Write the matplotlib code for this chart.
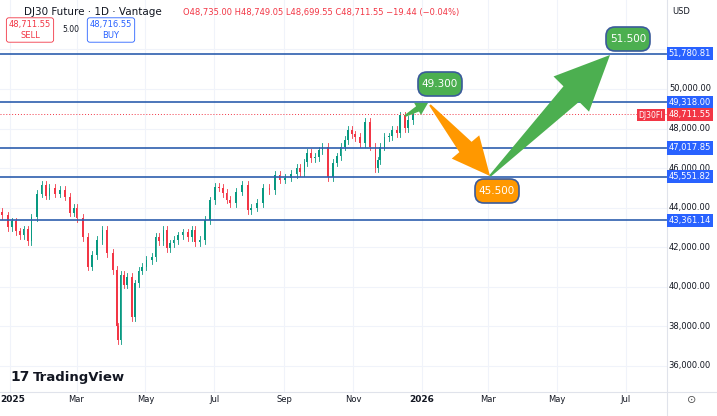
import matplotlib
matplotlib.use("Agg")
import matplotlib.pyplot as plt
import numpy as np
from matplotlib.patches import FancyBboxPatch, Polygon, Rectangle

# day offset from 2025-01-01, close price
days = [-7,-2,2,5,9,12,16,19,24,28,32,35,40,44,49,53,57,59,65,69,73,77,82,86,91,95,96,98,101,104,108,111,114,117,121,126,129,132,136,139,142,145,149,153,158,161,164,168,173,177,182,185,189,192,195,200,206,211,214,219,224,230,235,239,244,249,254,257,261,263,267,270,274,277,282,286,290,293,297,300,303,306,310,315,319,324,326,328,332,336,339,343,346,350,353,357]
closes = [43600,43000,43300,42800,42600,42900,42300,43500,44700,45150,44600,45000,44700,44900,44540,43730,44000,43470,42510,41000,41600,42360,42870,41700,40840,38000,37300,40600,40100,40490,38460,40180,40800,41000,41350,41500,42510,42300,42870,41950,42200,42360,42600,42760,42500,42870,42260,42360,43370,44380,45040,45000,44740,44400,44230,44800,45150,43880,44000,44230,44990,44890,45650,45400,45500,45700,46000,45800,46300,46760,46500,46560,46900,47070,45550,46260,46600,47070,47420,47930,47700,47570,47270,48330,47070,46000,46400,47070,47570,47600,47930,47770,48680,48020,48430,48711.55]
levels = [51780.81, 49318.00, 47017.85, 45551.82, 43361.14]
current = 48711.55
yticks = [36000,38000,40000,42000,44000,46000,48000,50000,52000]
month_days = [0,59,120,181,243,304,365,424,485,546]
month_labels = ["2025","Mar","May","Jul","Sep","Nov","2026","Mar","May","Jul"]

def px2d(x): return (x-10)/1.128
def py2v(y): return 50000-(y-89)*50.6

fig = plt.figure(figsize=(7.17,4.16), dpi=100)
ax = fig.add_axes([0, 24/416, 667/717, 392/416])
ax.set_xlim(px2d(0), px2d(667)); ax.set_ylim(py2v(392), py2v(0))
for t in yticks: ax.axhline(t, color="#f0f3fa", lw=0.8, zorder=0)
for d in month_days: ax.axvline(d, color="#f0f3fa", lw=0.8, zorder=0)

up, dn = "#089981", "#f23645"
prev = closes[0]+200
for d, c in zip(days, closes):
    o = prev; col = up if c >= o else dn
    hi, lo = max(o,c)+180, min(o,c)-180
    ax.plot([d,d],[lo,hi], color=col, lw=0.6, zorder=2)
    ax.add_patch(Rectangle((d-0.8, min(o,c)), 1.6, max(abs(c-o),30), color=col, zorder=3, lw=0))
    prev = c

for lv in levels: ax.axhline(lv, color="#2d5fae", lw=1.2, zorder=4)
ax.axhline(current, color="#f23645", lw=0.7, ls=(0,(1,2)), zorder=4)

def arrow(x0,y0,x1,y1,col,w,hw,hl):
    p0=np.array([x0,y0],float); p1=np.array([x1,y1],float)
    v=p1-p0; L=np.hypot(*v); u=v/L; n=np.array([-u[1],u[0]])
    b=p1-u*hl
    pts=[p0+n*1,b+n*w/2,b+n*hw/2,p1,b-n*hw/2,b-n*w/2,p0-n*1]
    pts=[(px2d(p[0]),py2v(p[1])) for p in pts]
    ax.add_patch(Polygon(pts, closed=True, color=col, zorder=6, lw=0))
arrow(405,116,428,103,"#4caf50",6,14,12)
arrow(430,105,490,176,"#ff9800",16,36,38)
arrow(490,176,610,55,"#4caf50",22,50,55)

def bubble(cx,cy,txt,col):
    w,h=44,24
    ax.add_patch(FancyBboxPatch((px2d(cx-w/2),py2v(cy+h/2)), w/1.128, h*50.6,
        boxstyle="round,pad=0,rounding_size=8", fc=col, ec="#3a5a9a", lw=1.2, zorder=7,
        mutation_aspect=50.6*1.128))
    ax.text(px2d(cx),py2v(cy),txt,color="white",ha="center",va="center",fontsize=7.5,zorder=8)
bubble(440,84,"49.300","#4caf50")
bubble(497,191,"45.500","#ff9800")
bubble(628,39,"51.500","#4caf50")

ax.set_xticks([]); ax.set_yticks([])
for s in ax.spines.values(): s.set_visible(False)

# right price axis
for t in yticks:
    if t == 52000:
        continue
    fig.text(711/717, 1-(89+(50000-t)/50.6)/416, f"{t:,.2f}", ha="right", va="center", fontsize=6, color="#131722")
def tag(v, txt, col):
    y=1-(89+(50000-v)/50.6)/416
    fig.text(711/717, y, txt, ha="right", va="center", fontsize=6, color="white",
             bbox=dict(boxstyle="square,pad=0.25", fc=col, ec="none"))
for lv in levels: tag(lv, f"{lv:,.2f}", "#2962ff")
tag(current, f"{current:,.2f}", "#f23645")
fig.text(663/717, 1-115/416, "DJ30FI", ha="right", va="center", fontsize=5.5, color="white",
         bbox=dict(boxstyle="square,pad=0.25", fc="#f23645", ec="none"))
fig.text(672/717, 1-12/416, "USD", fontsize=6, va="center", color="#131722")
fig.add_artist(plt.Line2D([667/717,667/717],[0,1], color="#e0e3eb", lw=0.8))
fig.add_artist(plt.Line2D([0,1],[24/416,24/416], color="#e0e3eb", lw=0.8))
for d, lab in zip(month_days, month_labels):
    x=(10+d*1.128)/717
    if lab == "2025":
        fig.text(0.5/717, 1-400/416, lab, ha="left", va="center", fontsize=6.5, color="#131722", fontweight="bold")
        continue
    fig.text(x, 1-400/416, lab, ha="center", va="center", fontsize=6.5 if lab[0]=="2" else 6,
             color="#131722", fontweight="bold" if lab[0]=="2" else "normal")
fig.text(692/717, 1-400/416, "⊙", ha="center", va="center", fontsize=8, color="#555")

# header
fig.text(24/717, 1-12/416, "DJ30 Future · 1D · Vantage", fontsize=7.5, va="center", color="#131722")
fig.text(183/717, 1-12/416, "O48,735.00 H48,749.05 L48,699.55 C48,711.55 −19.44 (−0.04%)",
         fontsize=6, va="center", color="#f23645")
fig.text(30/717, 1-30/416, "48,711.55\nSELL", ha="center", va="center", fontsize=6, color="#f23645",
         bbox=dict(boxstyle="round,pad=0.3", fc="white", ec="#f23645", lw=0.6))
fig.text(71/717, 1-30/416, "5.00", ha="center", va="center", fontsize=5.5, color="#131722")
fig.text(111/717, 1-30/416, "48,716.55\nBUY", ha="center", va="center", fontsize=6, color="#2962ff",
         bbox=dict(boxstyle="round,pad=0.3", fc="white", ec="#2962ff", lw=0.6))
fig.text(10/717, 1-377/416, "17", fontsize=10, fontweight="black", va="center", color="#131722")
fig.text(33/717, 1-377/416, "TradingView", fontsize=9.5, fontweight="bold", va="center", color="#131722")
fig.savefig("out.png", dpi=100, facecolor="white")
